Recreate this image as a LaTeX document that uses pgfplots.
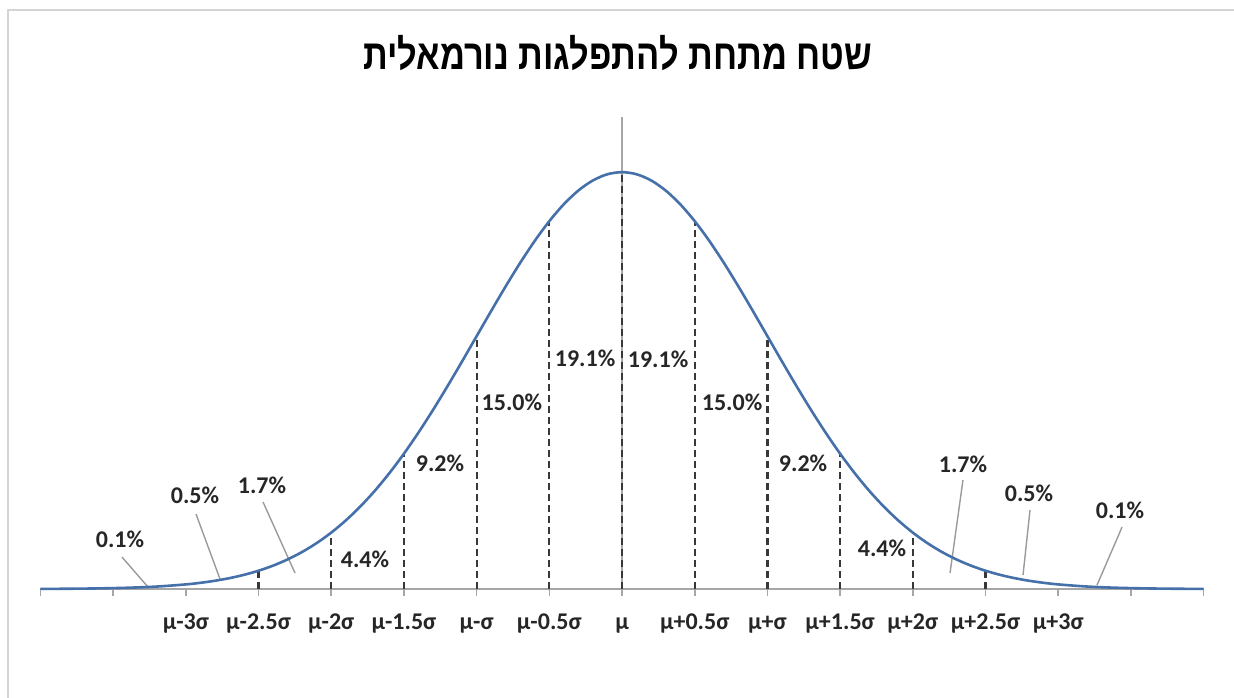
\documentclass[border=0pt]{standalone}
\usepackage{fontspec}
\usepackage{pgfplots}
\usepackage{pgfplotstable}
\pgfplotsset{compat=1.18}
\TeXXeTstate=1
\setmainfont{Carlito}
\newfontfamily\hebfont[Script=Hebrew,FakeStretch=0.82]{Liberation Sans}

\definecolor{curveblue}{HTML}{4570AA}
\definecolor{dashgray}{HTML}{383838}
\definecolor{leadgray}{HTML}{9A9A9A}
\definecolor{axgray}{HTML}{A6A6A6}
\definecolor{framegray}{HTML}{D4D4D4}
\tikzset{lbl/.style={font=\fontsize{12}{13}\selectfont\bfseries, text=black!85, inner sep=1pt}}

% density of the normal curve, x in units of sigma
\pgfplotstableread{
x y
-4.0 0.00013
-3.8 0.00029
-3.6 0.00061
-3.4 0.00123
-3.2 0.00238
-3.0 0.00443
-2.9 0.00595
-2.8 0.00792
-2.7 0.01042
-2.6 0.01358
-2.5 0.01753
-2.4 0.02239
-2.3 0.02833
-2.2 0.03547
-2.1 0.04398
-2.0 0.05399
-1.9 0.06562
-1.8 0.07895
-1.7 0.09405
-1.6 0.11092
-1.5 0.12952
-1.4 0.14973
-1.3 0.17137
-1.2 0.19419
-1.1 0.21785
-1.0 0.24197
-0.9 0.26609
-0.8 0.28969
-0.7 0.31225
-0.6 0.33322
-0.5 0.35207
-0.4 0.36827
-0.3 0.38139
-0.2 0.39104
-0.1 0.39695
0.0 0.39894
0.1 0.39695
0.2 0.39104
0.3 0.38139
0.4 0.36827
0.5 0.35207
0.6 0.33322
0.7 0.31225
0.8 0.28969
0.9 0.26609
1.0 0.24197
1.1 0.21785
1.2 0.19419
1.3 0.17137
1.4 0.14973
1.5 0.12952
1.6 0.11092
1.7 0.09405
1.8 0.07895
1.9 0.06562
2.0 0.05399
2.1 0.04398
2.2 0.03547
2.3 0.02833
2.4 0.02239
2.5 0.01753
2.6 0.01358
2.7 0.01042
2.8 0.00792
2.9 0.00595
3.0 0.00443
3.2 0.00238
3.4 0.00123
3.6 0.00061
3.8 0.00029
4.0 0.00013
}\normaltable

% dashed cuts every half sigma
\pgfplotstableread{
x y
-2.5 0.01753
-2.0 0.05399
-1.5 0.12952
-1.0 0.24197
-0.5 0.35207
0.0 0.39894
0.5 0.35207
1.0 0.24197
1.5 0.12952
2.0 0.05399
2.5 0.01753
}\cuts

\begin{document}
\begin{tikzpicture}
\begin{axis}[
  scale only axis, width=581.5pt, height=240.3pt,
  xmin=-4, xmax=4, ymin=0, ymax=0.46,
  axis x line=bottom, axis y line=none,
  x axis line style={-, axgray, line width=0.8pt},
  xtick={-4,-3.5,-3,-2.5,-2,-1.5,-1,-0.5,0,0.5,1,1.5,2,2.5,3,3.5,4},
  xticklabels={,,μ-3σ,μ-2.5σ,μ-2σ,μ-1.5σ,μ-σ,μ-0.5σ,μ,μ+0.5σ,μ+σ,μ+1.5σ,μ+2σ,μ+2.5σ,μ+3σ,,},
  tick align=outside, major tick length=3.5pt,
  xtick style={axgray, line width=0.8pt},
  xticklabel style={font=\fontsize{12}{13}\selectfont\bfseries, text=black!85,
    text height=8pt, text depth=2.5pt, yshift=-5pt},
  clip=false,
]
\draw[framegray, line width=1.2pt] (axis cs:-4.223,0.554) rectangle (axis cs:4.25,-0.111);
\coordinate (bbA) at (axis cs:-4.278,0.5637);
\coordinate (bbB) at (axis cs:4.209,-0.1034);

\node[font=\hebfont\bfseries\fontsize{21}{24}\selectfont] at (axis cs:-0.03,0.513)
  {\beginR שטח מתחת להתפלגות נורמאלית\endR};

\addplot[axgray, line width=0.8pt] coordinates {(0,0) (0,0.452)};
\addplot[ycomb, dashgray, line width=1.1pt, dash pattern=on 3.5pt off 2pt, no markers] table {\cuts};

% leader lines for the tail labels
\addplot[leadgray, line width=0.7pt] coordinates {(-3.439,0.0306) (-3.260,0.0019)};
\addplot[leadgray, line width=0.7pt] coordinates {(-2.930,0.0718) (-2.765,0.0096)};
\addplot[leadgray, line width=0.7pt] coordinates {(-2.469,0.0833) (-2.249,0.0153)};
\addplot[leadgray, line width=0.7pt] coordinates {(2.345,0.1043) (2.256,0.0153)};
\addplot[leadgray, line width=0.7pt] coordinates {(2.806,0.0756) (2.758,0.0134)};
\addplot[leadgray, line width=0.7pt] coordinates {(3.439,0.0593) (3.267,0.0038)};

\addplot[curveblue, line width=1.3pt, smooth, no markers] table {\normaltable};

\node[lbl] at (axis cs:-0.254,0.221) {19.1\%};
\node[lbl] at (axis cs:-0.757,0.179) {15.0\%};
\node[lbl] at (axis cs:-1.252,0.1206) {9.2\%};
\node[lbl] at (axis cs:-1.768,0.0287) {4.4\%};
\node[lbl] at (axis cs:-2.476,0.0995) {1.7\%};
\node[lbl] at (axis cs:-2.937,0.0900) {0.5\%};
\node[lbl] at (axis cs:-3.453,0.0479) {0.1\%};
\node[lbl] at (axis cs:0.248,0.220) {19.1\%};
\node[lbl] at (axis cs:0.757,0.179) {15.0\%};
\node[lbl] at (axis cs:1.245,0.1206) {9.2\%};
\node[lbl] at (axis cs:1.788,0.0392) {4.4\%};
\node[lbl] at (axis cs:2.345,0.1196) {1.7\%};
\node[lbl] at (axis cs:2.799,0.0919) {0.5\%};
\node[lbl] at (axis cs:3.425,0.0756) {0.1\%};
\end{axis}
\pgfresetboundingbox
\useasboundingbox (bbA) rectangle (bbB);
\end{tikzpicture}
\end{document}
